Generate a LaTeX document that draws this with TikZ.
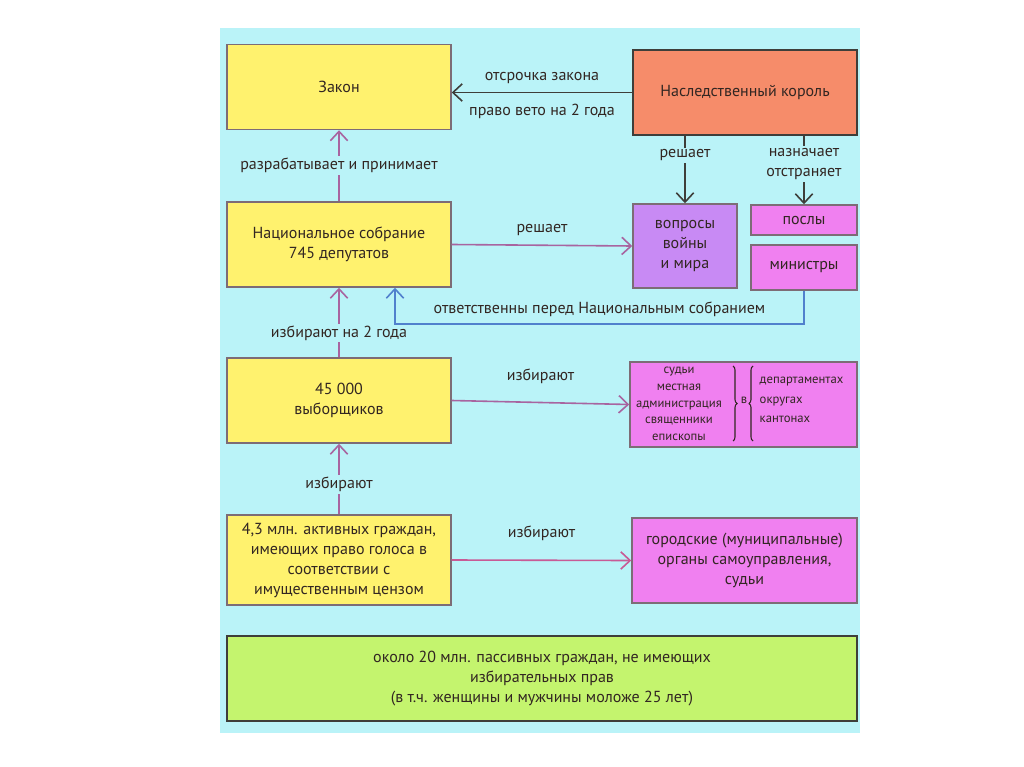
\documentclass[tikz,border=0pt]{standalone}
\usepackage{fontspec}
\setmainfont{PT Sans}
\usepackage{xcolor}
\usetikzlibrary{arrows.meta,calc,decorations.pathreplacing}

\definecolor{bgcyan}{RGB}{186,243,248}
\definecolor{lawyellow}{RGB}{255,242,110}
\definecolor{kingsalmon}{RGB}{246,140,106}
\definecolor{warlilac}{RGB}{200,138,244}
\definecolor{offmagenta}{RGB}{240,128,240}
\definecolor{passgreen}{RGB}{196,244,110}
\definecolor{ink}{RGB}{50,38,34}
\definecolor{boxline}{RGB}{125,108,118}
\definecolor{darkline}{RGB}{62,62,58}
\definecolor{mauve}{RGB}{168,100,160}
\definecolor{roseline}{RGB}{200,90,150}
\definecolor{respblue}{RGB}{80,128,205}

\newlength\pxu
\setlength\pxu{0.75pt}

\begin{document}
\begin{tikzpicture}[x=0.75pt,y=-0.75pt,
	every node/.style={font=\fontsize{12}{15}\selectfont,text=ink},
	box/.style={draw=boxline,line width=1.1pt,minimum width=224\pxu,minimum height=85\pxu,align=center,inner sep=2pt},
	link/.style={line width=1.2pt,-{Straight Barb[length=7pt,width=13pt,line width=1.2pt]}},
	tag/.style={fill=bgcyan,inner sep=1.5pt,align=center},
	small/.style={font=\fontsize{9.5}{12.5}\selectfont}]
	\useasboundingbox (0,0) rectangle (1024,767);
	\fill[white] (0,0) rectangle (1024,767);
	\fill[bgcyan] (220,28) rectangle (860,733);
	% boxes
	\node[box,fill=lawyellow] (zakon) at (339,87) {Закон};
	\node[box,fill=kingsalmon,draw=darkline] (king) at (745,92.5) {Наследственный король};
	\node[box,fill=lawyellow] (ns) at (339,244.5) {Национальное собрание\\745 депутатов};
	\node[box,fill=warlilac,minimum width=104\pxu,minimum height=84\pxu] (war) at (685,246) {вопросы\\войны\\и мира};
	\node[box,fill=offmagenta,minimum width=106\pxu,minimum height=30\pxu] (posly) at (804,220) {послы};
	\node[box,fill=offmagenta,minimum width=106\pxu,minimum height=45\pxu] (min) at (804,267.5) {министры};
	\node[box,fill=lawyellow] (vyb) at (339,400.5) {45 000\\выборщиков};
	\node[box,fill=offmagenta,minimum width=227\pxu] (local) at (743.5,404.5) {};
	\node[box,fill=lawyellow,minimum height=90\pxu] (active) at (339,560) {4,3 млн. активных граждан,\\имеющих право голоса в\\соответствии с\\имущественным цензом};
	\node[box,fill=offmagenta,minimum width=225\pxu] (city) at (744.5,560.5) {городские (муниципальные)\\органы самоуправления,\\судьи};
	\node[box,fill=passgreen,draw=darkline,minimum width=630\pxu] (passive) at (542,678.5) {около 20 млн. пассивных граждан, не имеющих\\избирательных прав\\(в т.ч. женщины и мужчины моложе 25 лет)};
	% inside the local box
	\node[align=center,small] (localleft) at (679,404) {судьи\\местная\\администрация\\священники\\епископы};
	\node[small] (localin) at (744,400) {в};
	\node[align=left,anchor=west,small,font=\fontsize{9.5}{14.5}\selectfont] (localright) at (755,400) {департаментах\\округах\\кантонах};
	\draw[ink,line width=0.8pt,decorate,decoration={brace,amplitude=3pt}] (733,366) -- (733,441);
	\draw[ink,line width=0.8pt,decorate,decoration={brace,amplitude=3pt}] (753,441) -- (753,366);
	% connectors
	\draw[link,darkline] (king.west) -- (king.west -| zakon.east)
		node[midway,above=4\pxu] {отсрочка закона}
		node[midway,below=6\pxu] {право вето на 2 года};
	\draw[link,mauve] (ns.north) -- (zakon.south) node[midway,tag] {разрабатывает и принимает};
	\draw[link,mauve] (vyb.north) -- (ns.south) node[pos=0.35,tag] {избирают на 2 года};
	\draw[link,mauve] (active.north) -- (vyb.south) node[pos=0.42,tag] {избирают};
	\draw[link,mauve] (ns.east) -- (war.west) node[midway,above=4\pxu] {решает};
	\draw[link,mauve] (vyb.east) -- (local.west) node[midway,above=14\pxu] {избирают};
	\draw[link,roseline] (active.east) -- (city.west) node[midway,above=14\pxu] {избирают};
	\draw[link,darkline] (war.north |- king.south) -- (war.north) node[pos=0.29,tag] {решает};
	\draw[link,darkline] (posly.north |- king.south) -- (posly.north) node[pos=0.41,tag] {назначает\\отстраняет};
	\coordinate (nsfoot) at ($(ns.south)+(56,0)$);
	\draw[link,respblue] (min.south) -- ++(0,33) coordinate (resbend) -- (resbend -| nsfoot)
		node[midway,above=2\pxu] {ответственны перед Национальным собранием} -- (nsfoot);
\end{tikzpicture}
\end{document}
